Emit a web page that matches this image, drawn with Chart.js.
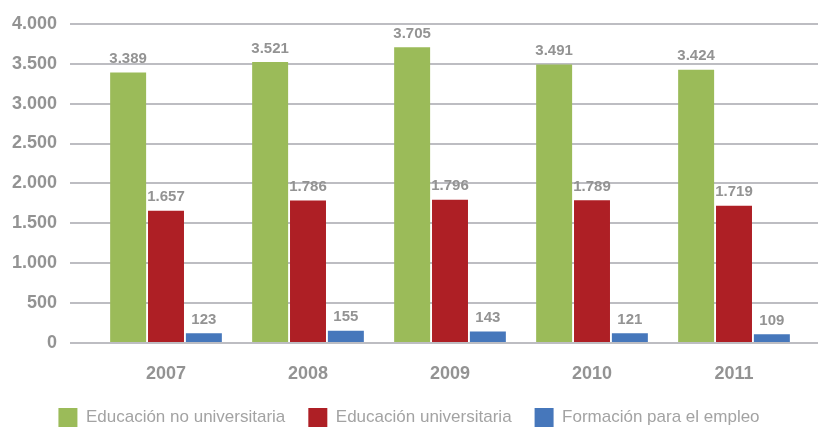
<!DOCTYPE html>
<html>
<head>
<meta charset="utf-8">
<script src="https://cdn.jsdelivr.net/npm/chart.js@4/dist/chart.umd.min.js"></script>
<style>
  html, body { margin: 0; padding: 0; background: #ffffff; }
  #wrap { width: 818px; height: 428px; }
</style>
</head>
<body>
<div id="wrap"><canvas id="chart"></canvas></div>
<script>
const years = ["2007", "2008", "2009", "2010", "2011"];
const noUniversitaria = [3389, 3521, 3705, 3491, 3424];
const universitaria = [1657, 1786, 1796, 1789, 1719];
const formacionEmpleo = [123, 155, 143, 121, 109];
const seriesNames = ["Educación no universitaria", "Educación universitaria", "Formación para el empleo"];

const FONT = "'Liberation Sans', Arial, sans-serif";
const GREY = "#939393";
const GRID = "#bdbdc2";

function fmt(v)
{
    return String(v).replace(/\B(?=(\d{3})+(?!\d))/g, ".");
}

const valueLabels = {
    id: "valueLabels",
    afterDatasetsDraw(chart)
    {
        const ctx = chart.ctx;
        ctx.save();
        ctx.font = "bold 15px " + FONT;
        ctx.fillStyle = GREY;
        ctx.textAlign = "center";
        ctx.textBaseline = "bottom";
        chart.data.datasets.forEach((ds, i) => {
            chart.getDatasetMeta(i).data.forEach((bar, j) => {
                ctx.fillText(fmt(ds.data[j]), bar.x, bar.y - 6);
            });
        });
        ctx.restore();
    }
};

function generateBarChart(elem)
{
    try
    {
        const config = {
            type: "bar",
            data: {
                labels: years,
                datasets: [
                    { label: seriesNames[0], data: noUniversitaria, backgroundColor: "#9bbb59" },
                    { label: seriesNames[1], data: universitaria, backgroundColor: "#ae1f25" },
                    { label: seriesNames[2], data: formacionEmpleo, backgroundColor: "#4677bb" }
                ]
            },
            options: {
                responsive: true,
                maintainAspectRatio: false,
                animation: false,
                layout: { padding: { top: 14, left: 0, right: 0, bottom: 0 } },
                categoryPercentage: 0.8,
                barPercentage: 0.95,
                plugins: {
                    tooltip: { enabled: false },
                    legend: {
                        position: "bottom",
                        maxHeight: 43,
                        labels: {
                            boxWidth: 19,
                            boxHeight: 19,
                            padding: 23,
                            color: "#a3a3a3",
                            font: { family: FONT, size: 17 }
                        }
                    }
                },
                scales: {
                    x: {
                        grid: { display: false, drawTicks: false },
                        border: { display: false },
                        afterFit(scale) { scale.height = 42; },
                        ticks: {
                            color: GREY,
                            padding: 20,
                            font: { family: FONT, size: 18, weight: "bold" }
                        }
                    },
                    y: {
                        min: 0,
                        max: 4000,
                        border: { display: false },
                        grid: { color: GRID, lineWidth: 2, tickLength: 25 },
                        afterFit(scale) { scale.width = 95; },
                        ticks: {
                            stepSize: 500,
                            color: GREY,
                            padding: 13,
                            font: { family: FONT, size: 18, weight: "bold" },
                            callback: (v) => fmt(v)
                        }
                    },
                    yRight: {
                        position: "right",
                        min: 0,
                        max: 4000,
                        border: { display: false },
                        grid: { color: GRID, lineWidth: 2, tickLength: 13, drawOnChartArea: false },
                        afterFit(scale) { scale.width = 13; },
                        ticks: { stepSize: 500, display: false }
                    }
                }
            },
            plugins: [valueLabels]
        };

        new Chart(elem, config);
        return true;
    }
    catch (e)
    {
        console.error(e.message);
    }
    return false;
}

generateBarChart(document.getElementById("chart"));
</script>
</body>
</html>
